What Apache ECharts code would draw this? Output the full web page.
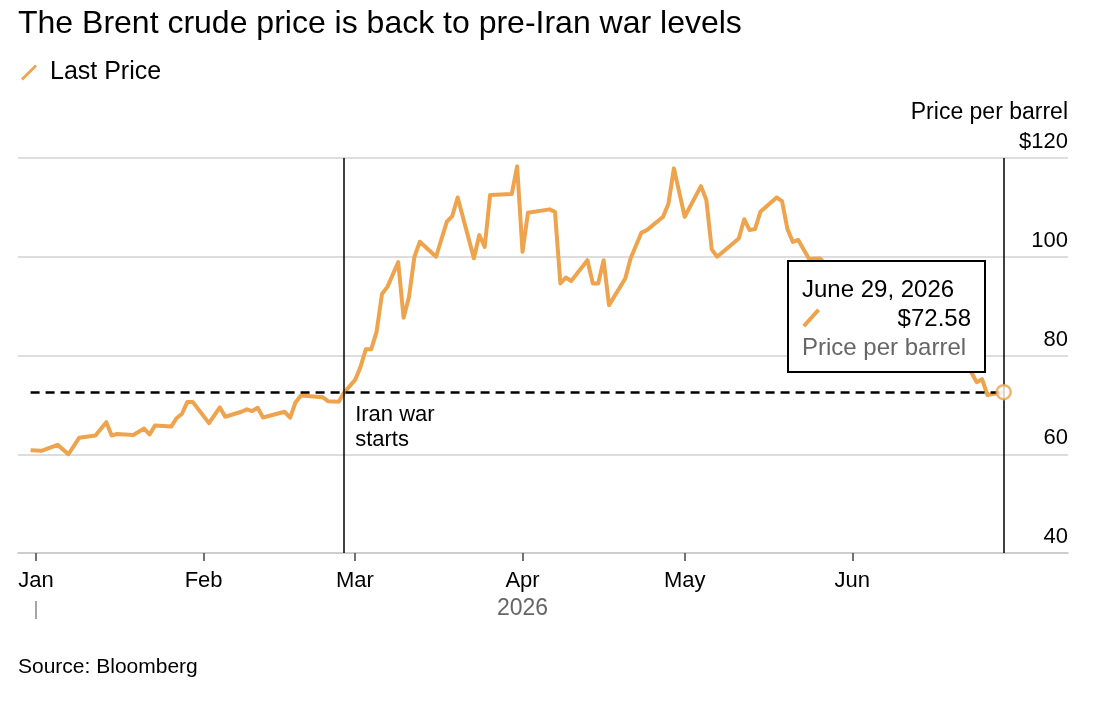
<!DOCTYPE html>
<html>
<head>
<meta charset="utf-8">
<script src="https://cdn.jsdelivr.net/npm/echarts@6/dist/echarts.min.js"></script>
<style>
html,body{margin:0;padding:0;background:#fff;}
#c{width:1110px;height:714px;}
</style>
</head>
<body>
<div id="c"></div>
<script>
const titleText = 'The Brent crude price is back to pre-Iran war levels';
const seriesName = 'Last Price';
const unitLabel = 'Price per barrel';
const sourceText = 'Source: Bloomberg';
const warLabel = 'Iran war\nstarts';
const warDate = '2026-02-27';
const yearLabel = '2026';
const monthStarts = ['2026-01-01','2026-02-01','2026-03-01','2026-04-01','2026-05-01','2026-06-01'];
const monthNames = ['Jan','Feb','Mar','Apr','May','Jun','Jul','Aug','Sep','Oct','Nov','Dec'];
const fullMonthNames = ['January','February','March','April','May','June','July','August','September','October','November','December'];

const dates = [
 '2025-12-31','2026-01-02','2026-01-05','2026-01-07','2026-01-09','2026-01-12','2026-01-14','2026-01-15','2026-01-16','2026-01-19',
 '2026-01-21','2026-01-22','2026-01-23','2026-01-26','2026-01-27','2026-01-28','2026-01-29','2026-01-30','2026-02-02','2026-02-04',
 '2026-02-05','2026-02-08','2026-02-09','2026-02-10','2026-02-11','2026-02-12','2026-02-16','2026-02-17','2026-02-18','2026-02-19',
 '2026-02-23','2026-02-24','2026-02-26','2026-02-27','2026-03-01','2026-03-02','2026-03-03','2026-03-04','2026-03-05','2026-03-06',
 '2026-03-07','2026-03-09','2026-03-10','2026-03-11','2026-03-12','2026-03-13','2026-03-16','2026-03-18','2026-03-19','2026-03-20',
 '2026-03-23','2026-03-24','2026-03-25','2026-03-26','2026-03-30','2026-03-31','2026-04-01','2026-04-02','2026-04-06','2026-04-07',
 '2026-04-08','2026-04-09','2026-04-10','2026-04-13','2026-04-14','2026-04-15','2026-04-16','2026-04-17','2026-04-20','2026-04-21',
 '2026-04-23','2026-04-24','2026-04-27','2026-04-28','2026-04-29','2026-05-01','2026-05-04','2026-05-05','2026-05-06','2026-05-07',
 '2026-05-11','2026-05-12','2026-05-13','2026-05-14','2026-05-15','2026-05-18','2026-05-19','2026-05-20','2026-05-21','2026-05-22',
 '2026-05-24','2026-05-26','2026-05-28','2026-06-01','2026-06-03','2026-06-05','2026-06-08','2026-06-10','2026-06-12','2026-06-15',
 '2026-06-17','2026-06-19','2026-06-22','2026-06-23','2026-06-24','2026-06-25','2026-06-26','2026-06-29'
];
const prices = [
 60.8, 60.7, 61.9, 60.0, 63.35, 63.8, 66.5, 63.8, 64.1, 63.9,
 65.2, 64.0, 65.8, 65.6, 67.3, 68.2, 70.6, 70.6, 66.3, 69.5,
 67.6, 68.6, 69.1, 68.75, 69.4, 67.45, 68.6, 67.4, 70.5, 71.9,
 71.55, 70.75, 70.65, 72.5, 75.0, 77.6, 81.25, 81.25, 84.8, 92.45,
 93.9, 98.9, 87.65, 91.9, 100.0, 103.05, 100.0, 107.1, 108.25, 112.0,
 99.7, 104.4, 102.0, 112.5, 112.7, 118.3, 101.0, 108.9, 109.6, 109.1,
 94.6, 95.8, 95.1, 99.3, 94.6, 94.6, 99.3, 90.2, 95.6, 99.7,
 104.9, 105.4, 108.1, 110.8, 117.9, 108.1, 114.3, 111.5, 101.5, 100.0,
 103.7, 107.6, 105.4, 105.6, 109.1, 112.0, 111.25, 105.6, 103.0, 103.4,
 99.55, 99.65, 97.5, 95.0, 91.0, 88.5, 89.5, 86.0, 84.5, 82.0,
 80.5, 78.5, 77.8, 76.6, 74.6, 75.2, 72.0, 72.58
];

const ORANGE = '#EEA34C';
const FONT = '"Liberation Sans", Arial, sans-serif';
const DAY = 86400000;
function toTs(s){ const p = s.split('-').map(Number); return new Date(p[0], p[1]-1, p[2]).getTime(); }

const seriesData = dates.map((d,i)=>[toTs(d), prices[i]]);
const last = seriesData[seriesData.length-1];
const first = seriesData[0];
const jan1 = toTs('2026-01-01');
const xMin = jan1 - 3.33*DAY;
const xMax = jan1 + 190.9*DAY;
const monthTs = monthStarts.map(toTs);

function fmtDate(ts){ const d = new Date(ts); return fullMonthNames[d.getMonth()] + ' ' + d.getDate() + ', ' + d.getFullYear(); }

const chart = echarts.init(document.getElementById('c'), null, {renderer:'canvas', width:1110, height:714});

const option = {
  animation: false,
  backgroundColor: '#fff',
  textStyle: {fontFamily: FONT},
  title: {
    text: titleText, left: 18, top: 8, padding: 0,
    textStyle: {fontFamily: FONT, fontSize: 32, fontWeight: 'normal', color: '#000'}
  },
  legend: {
    data: [seriesName], left: 21, top: 60, padding: 0,
    icon: 'path://M0,15 L15,0 L17,2 L2,17 Z', itemWidth: 16, itemHeight: 16,
    textStyle: {fontFamily: FONT, fontSize: 25, color: '#000', padding: [0,0,0,8]}
  },
  grid: {left: 18, right: 42, top: 158, bottom: 161, containLabel: false},
  tooltip: {
    trigger: 'item', alwaysShowContent: true, transitionDuration: 0, showDelay: 0,
    position: [787, 260], backgroundColor: '#fff', borderColor: '#000', borderWidth: 2, borderRadius: 0,
    padding: [12,13,10,13], extraCssText: 'box-shadow:none;',
    formatter: function(p){
      const v = p.value;
      return '<div style="font-family:' + FONT.replace(/"/g,"'") + ';font-size:24px;line-height:29px;color:#000;width:169px;white-space:nowrap">' +
        '<div>' + fmtDate(v[0]) + '</div>' +
        '<div style="display:flex;justify-content:space-between;align-items:center">' +
        '<span style="display:inline-block;width:22px;height:3.5px;margin-left:-2px;background:' + ORANGE + ';transform:rotate(-48deg)"></span>' +
        '<span>$' + v[1].toFixed(2) + '</span></div>' +
        '<div style="color:#666">' + unitLabel + '</div></div>';
    }
  },
  xAxis: {
    type: 'value', min: xMin, max: xMax, scale: true,
    axisLine: {show: true, lineStyle: {color: '#c8c8c8', width: 1.5}},
    axisTick: {show: true, customValues: monthTs, length: 8, lineStyle: {color: '#444', width: 1.5}},
    axisLabel: {customValues: monthTs, fontFamily: FONT, fontSize: 22, color: '#000', margin: 17,
      formatter: function(val){ return monthNames[new Date(val).getMonth()]; }},
    splitLine: {show: false}
  },
  yAxis: {
    type: 'value', position: 'right', min: 40, max: 120, interval: 20,
    axisLine: {show: false}, axisTick: {show: false},
    splitLine: {show: true, lineStyle: {color: '#d2d2d2', width: 1.5}},
    axisLabel: {inside: true, margin: 0, fontFamily: FONT, fontSize: 22, color: '#000', verticalAlign: 'bottom', padding: [0,0,5,0],
      formatter: function(v){ return v === 120 ? '$' + v : String(v); }}
  },
  series: [
    {
      name: seriesName, type: 'line', data: seriesData, symbol: 'none', z: 3,
      lineStyle: {color: ORANGE, width: 4, join: 'round'}, itemStyle: {color: ORANGE},
      emphasis: {disabled: true}, tooltip: {show: false},
      markLine: {
        silent: true, symbol: 'none', label: {show: false}, animation: false,
        data: [
          {xAxis: toTs(warDate), lineStyle: {color: '#000', width: 1.5, type: 'solid'}},
          {xAxis: last[0], lineStyle: {color: '#000', width: 1.5, type: 'solid'}},
          [{coord: [first[0], last[1]], lineStyle: {color: '#000', width: 2.5, type: [9,6]}}, {coord: [last[0], last[1]]}]
        ]
      }
    },
    {
      name: 'end', type: 'scatter', data: [last], symbol: 'circle', symbolSize: 14, z: 6,
      itemStyle: {color: '#fff', borderColor: ORANGE, borderWidth: 2.5},
      emphasis: {disabled: true}
    }
  ]
};
chart.setOption(option);

const warX = chart.convertToPixel({xAxisIndex: 0}, toTs(warDate));
const janX = chart.convertToPixel({xAxisIndex: 0}, jan1);
const aprX = chart.convertToPixel({xAxisIndex: 0}, toTs('2026-04-01'));
chart.setOption({
  graphic: [
    {type: 'text', left: warX + 11, top: 402, z: 10,
     style: {text: warLabel, font: '22px ' + FONT, fill: '#000', lineHeight: 25}},
    {type: 'text', right: 42, top: 101, z: 10,
     style: {text: unitLabel, font: '23px ' + FONT, fill: '#000', textAlign: 'right'}},
    {type: 'text', x: aprX, y: 597, z: 10,
     style: {text: yearLabel, font: '23px ' + FONT, fill: '#666', textAlign: 'center'}},
    {type: 'line', shape: {x1: janX, y1: 601, x2: janX, y2: 619}, style: {stroke: '#888', lineWidth: 1.5}, z: 10},
    {type: 'text', left: 18, top: 657, z: 10,
     style: {text: sourceText, font: '21px ' + FONT, fill: '#000'}}
  ]
});
chart.dispatchAction({type: 'showTip', seriesIndex: 1, dataIndex: 0});
</script>
</body>
</html>
